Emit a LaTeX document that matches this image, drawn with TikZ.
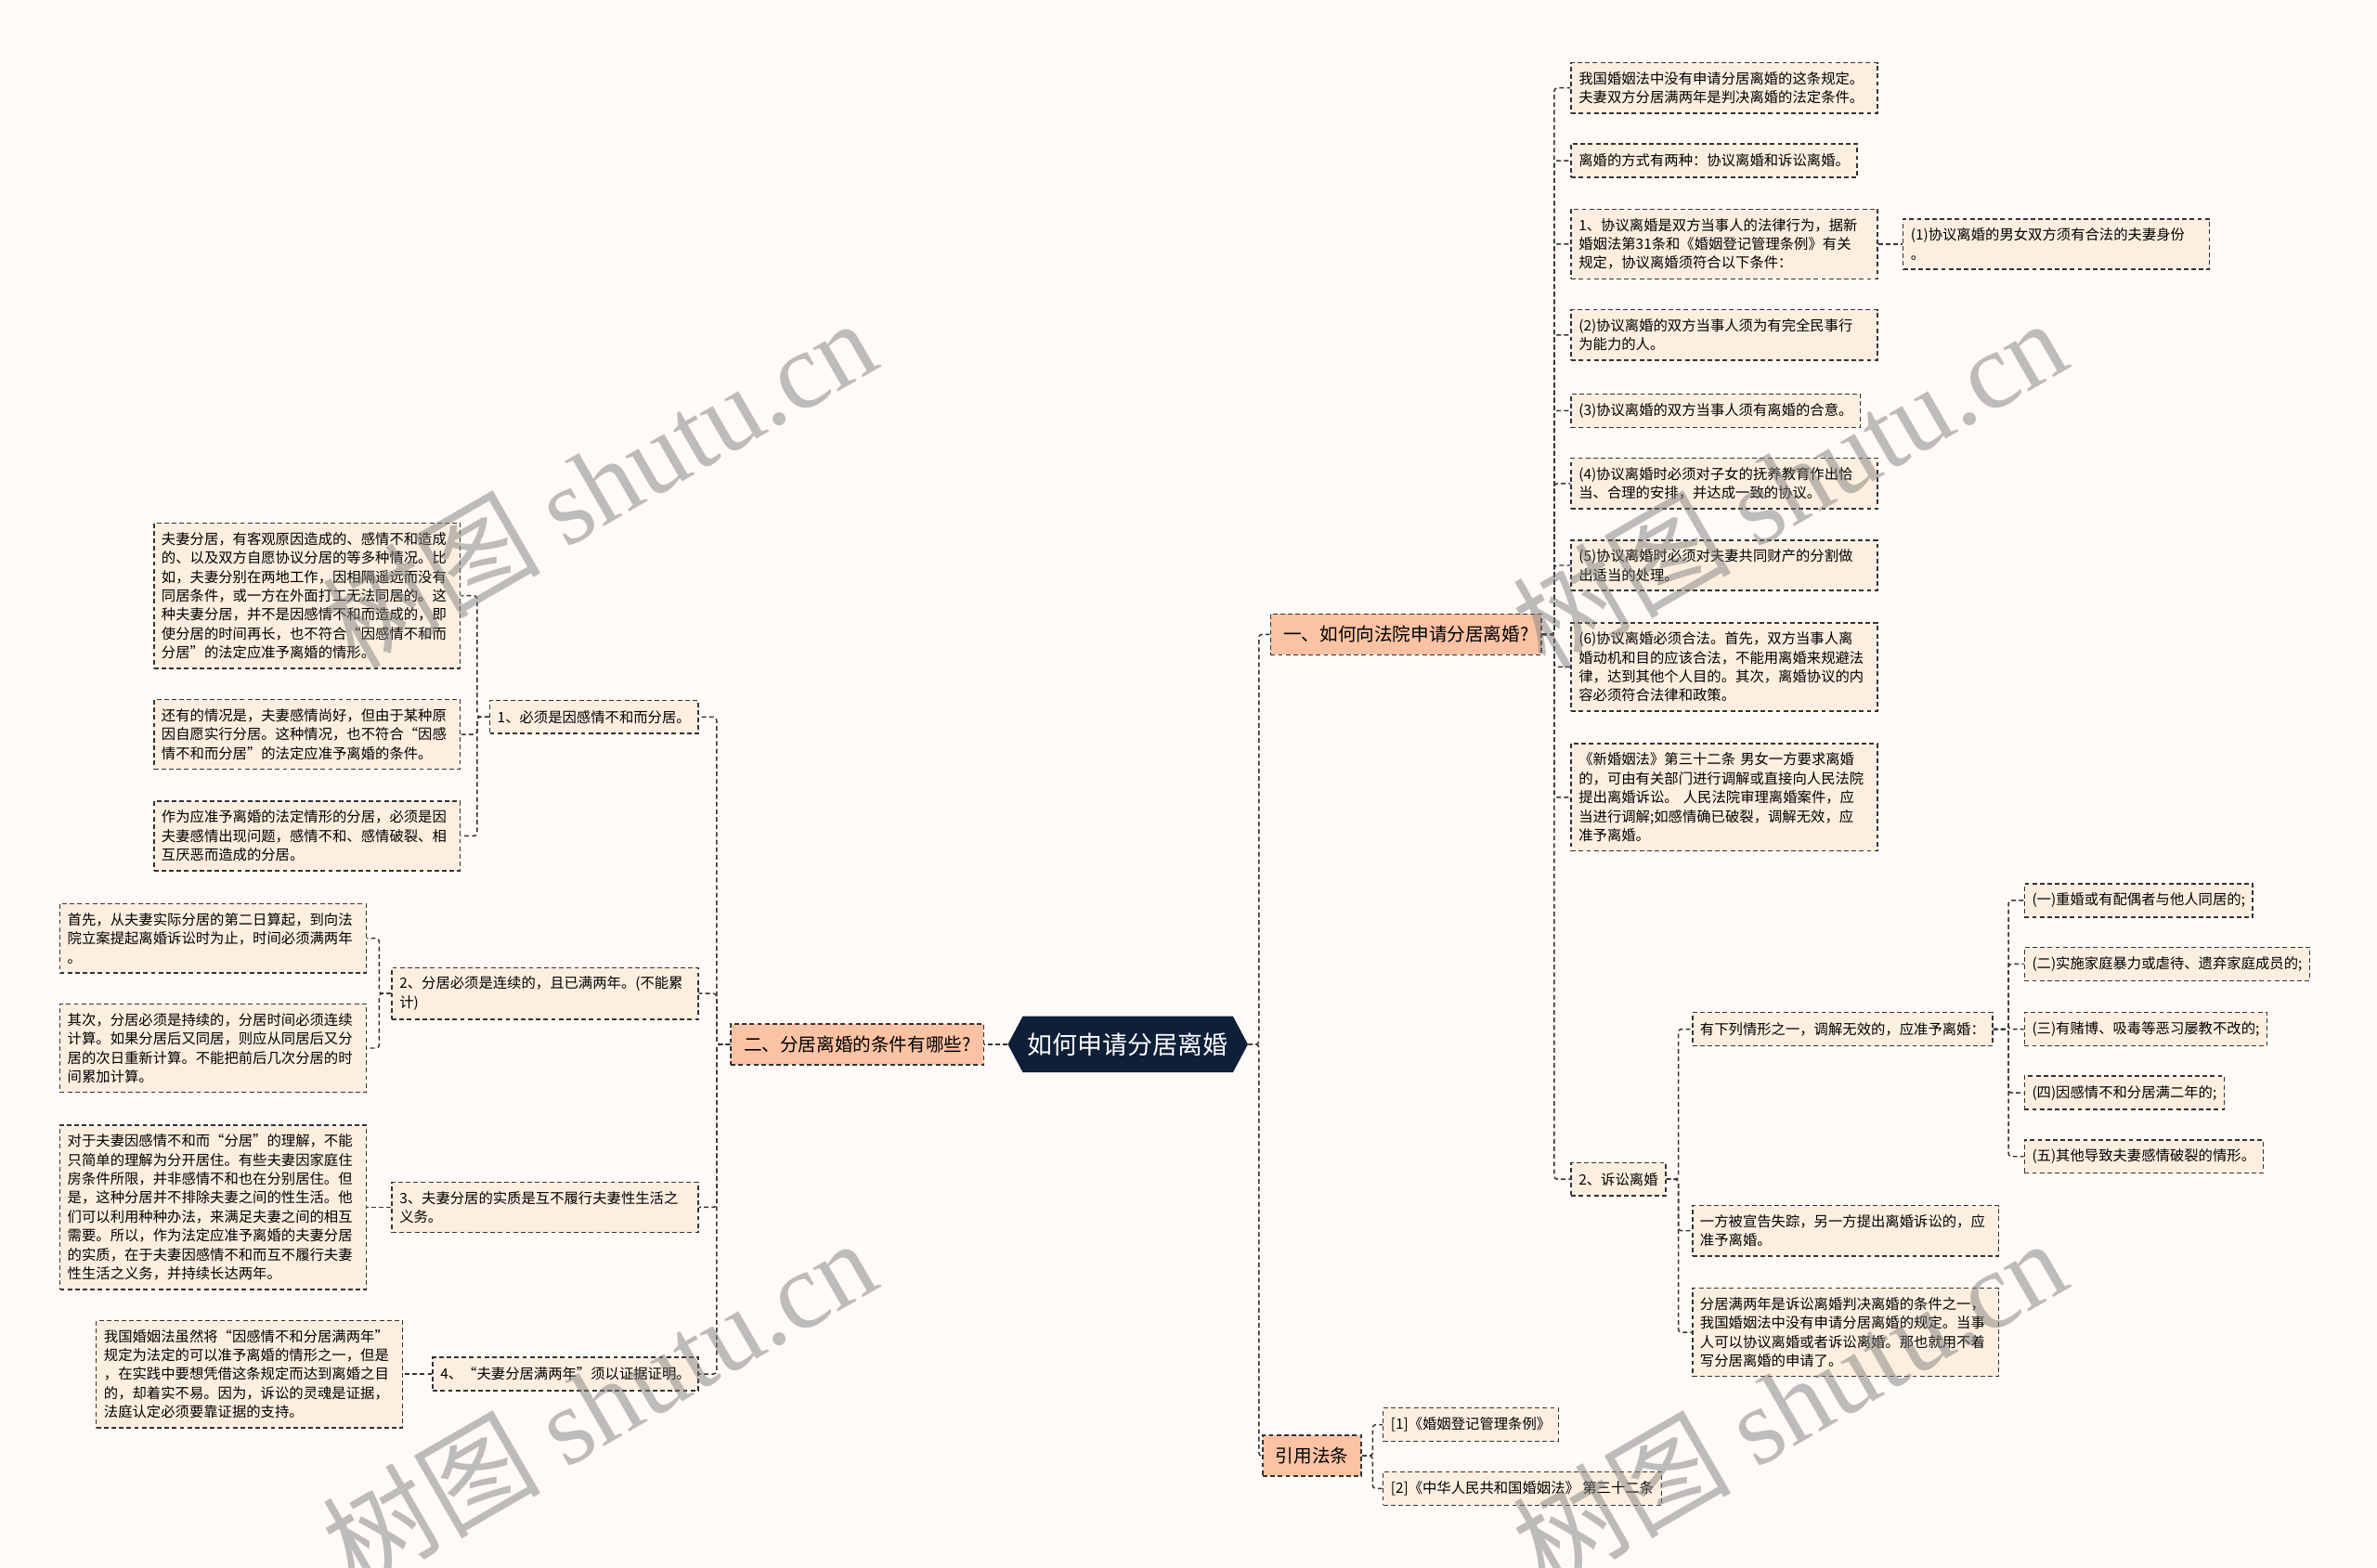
\documentclass[tikz,border=0pt]{standalone}
\usepackage{fontspec}
\setmainfont{Noto Sans CJK SC}
\newfontfamily\wmserif{Liberation Serif}
\usetikzlibrary{shapes.symbols}

\definecolor{bgpaper}{HTML}{FEFAF8}
\definecolor{leaffill}{HTML}{FDEFE0}
\definecolor{branchfill}{HTML}{FBC3A4}
\definecolor{rootfill}{HTML}{0F1F38}
\definecolor{linegray}{HTML}{333333}

\tikzset{
  leaf/.style={draw=linegray, dash pattern=on 3pt off 2pt, line width=0.9pt, fill=leaffill,
    inner xsep=5pt, inner ysep=6pt, minimum height=22pt, align=left,
    font=\fontsize{9.4}{12.5}\selectfont},
  leafw/.style={leaf, text width=192pt},
  branch/.style={draw=linegray, dash pattern=on 3pt off 2pt, line width=0.9pt, fill=branchfill,
    inner xsep=8.5pt, minimum height=27pt, font=\fontsize{12}{14}\selectfont},
  rootbox/.style={shape=signal, signal to=east and west, signal pointer angle=124,
    fill=rootfill, text=white, minimum width=152pt, minimum height=37pt,
    font=\fontsize{16.5}{18}\selectfont},
  link/.style={draw=linegray, dash pattern=on 3pt off 2pt, line width=0.9pt, rounded corners=2pt},
  wmark/.style={rotate=30, text=black!50, text opacity=0.5, font=\fontsize{72}{72}\selectfont}
}

\begin{document}
\begin{tikzpicture}[x=1pt,y=-1pt]
\useasboundingbox (0,0) rectangle (1568,1034);
\fill[bgpaper] (0,0) rectangle (1568,1034);

% centre and main branches
\node[rootbox] (root) at (744,689) {如何申请分居离婚};
\node[branch] (b1) at (927.5,418.5) {一、如何向法院申请分居离婚?};
\node[branch] (b2) at (565.5,689) {二、分居离婚的条件有哪些?};
\node[branch] (b3) at (865.5,960.5) {引用法条};

% branch one
\node[leafw, anchor=west] (c1) at (1036,58) {我国婚姻法中没有申请分居离婚的这条规定。\\夫妻双方分居满两年是判决离婚的法定条件。};
\node[leaf, anchor=west] (c2) at (1036,106) {离婚的方式有两种：协议离婚和诉讼离婚。};
\node[leafw, anchor=west] (c3) at (1036,161) {1、协议离婚是双方当事人的法律行为，据新\\婚姻法第31条和《婚姻登记管理条例》有关\\规定，协议离婚须符合以下条件：};
\node[leafw, anchor=west] (c3a) at (1255,161) {(1)协议离婚的男女双方须有合法的夫妻身份\\。};
\node[leafw, anchor=west] (c4) at (1036,221) {(2)协议离婚的双方当事人须为有完全民事行\\为能力的人。};
\node[leaf, anchor=west] (c5) at (1036,271) {(3)协议离婚的双方当事人须有离婚的合意。};
\node[leafw, anchor=west] (c6) at (1036,319) {(4)协议离婚时必须对子女的抚养教育作出恰\\当、合理的安排，并达成一致的协议。};
\node[leafw, anchor=west] (c7) at (1036,373) {(5)协议离婚时必须对夫妻共同财产的分割做\\出适当的处理。};
\node[leafw, anchor=west] (c8) at (1036,440) {(6)协议离婚必须合法。首先，双方当事人离\\婚动机和目的应该合法，不能用离婚来规避法\\律，达到其他个人目的。其次，离婚协议的内\\容必须符合法律和政策。};
\node[leafw, anchor=west] (c9) at (1036,526) {《新婚姻法》第三十二条 男女一方要求离婚\\的，可由有关部门进行调解或直接向人民法院\\提出离婚诉讼。 人民法院审理离婚案件，应\\当进行调解;如感情确已破裂，调解无效，应\\准予离婚。};
\node[leaf, anchor=west] (c10) at (1036,778) {2、诉讼离婚};

\node[leaf, anchor=west] (d1) at (1116,679) {有下列情形之一，调解无效的，应准予离婚：};
\node[leafw, anchor=west] (d2) at (1116,812) {一方被宣告失踪，另一方提出离婚诉讼的，应\\准予离婚。};
\node[leafw, anchor=west] (d3) at (1116,879) {分居满两年是诉讼离婚判决离婚的条件之一，\\我国婚姻法中没有申请分居离婚的规定。当事\\人可以协议离婚或者诉讼离婚。那也就用不着\\写分居离婚的申请了。};

\node[leaf, anchor=west] (e1) at (1335,594) {(一)重婚或有配偶者与他人同居的;};
\node[leaf, anchor=west] (e2) at (1335,636) {(二)实施家庭暴力或虐待、遗弃家庭成员的;};
\node[leaf, anchor=west] (e3) at (1335,679) {(三)有赌博、吸毒等恶习屡教不改的;};
\node[leaf, anchor=west] (e4) at (1335,721) {(四)因感情不和分居满二年的;};
\node[leaf, anchor=west] (e5) at (1335,763) {(五)其他导致夫妻感情破裂的情形。};

% cited laws
\node[leaf, anchor=west] (f1) at (912,940) {[1]《婚姻登记管理条例》};
\node[leaf, anchor=west] (f2) at (912,982) {[2]《中华人民共和国婚姻法》 第三十二条};

% branch two
\node[leaf, anchor=east] (g1) at (461,473) {1、必须是因感情不和而分居。};
\node[leafw, anchor=east] (g2) at (461,655.5) {2、分居必须是连续的，且已满两年。(不能累\\计)};
\node[leafw, anchor=east] (g3) at (461,796.5) {3、夫妻分居的实质是互不履行夫妻性生活之\\义务。};
\node[leaf, anchor=east] (g4) at (461,906.5) {4、“夫妻分居满两年”须以证据证明。};

\node[leafw, anchor=east] (h1) at (304,393) {夫妻分居，有客观原因造成的、感情不和造成\\的、以及双方自愿协议分居的等多种情况。比\\如，夫妻分别在两地工作，因相隔遥远而没有\\同居条件，或一方在外面打工无法同居的。这\\种夫妻分居，并不是因感情不和而造成的，即\\使分居的时间再长，也不符合“因感情不和而\\分居”的法定应准予离婚的情形。};
\node[leafw, anchor=east] (h2) at (304,484.5) {还有的情况是，夫妻感情尚好，但由于某种原\\因自愿实行分居。这种情况，也不符合“因感\\情不和而分居”的法定应准予离婚的条件。};
\node[leafw, anchor=east] (h3) at (304,551.5) {作为应准予离婚的法定情形的分居，必须是因\\夫妻感情出现问题，感情不和、感情破裂、相\\互厌恶而造成的分居。};
\node[leafw, anchor=east] (h4) at (242,619) {首先，从夫妻实际分居的第二日算起，到向法\\院立案提起离婚诉讼时为止，时间必须满两年\\。};
\node[leafw, anchor=east] (h5) at (242,691.5) {其次，分居必须是持续的，分居时间必须连续\\计算。如果分居后又同居，则应从同居后又分\\居的次日重新计算。不能把前后几次分居的时\\间累加计算。};
\node[leafw, anchor=east] (h6) at (242,796.5) {对于夫妻因感情不和而“分居”的理解，不能\\只简单的理解为分开居住。有些夫妻因家庭住\\房条件所限，并非感情不和也在分别居住。但\\是，这种分居并不排除夫妻之间的性生活。他\\们可以利用种种办法，来满足夫妻之间的相互\\需要。所以，作为法定应准予离婚的夫妻分居\\的实质，在于夫妻因感情不和而互不履行夫妻\\性生活之义务，并持续长达两年。};
\node[leafw, anchor=east] (h7) at (266,906.5) {我国婚姻法虽然将“因感情不和分居满两年”\\规定为法定的可以准予离婚的情形之一，但是\\，在实践中要想凭借这条规定而达到离婚之目\\的，却着实不易。因为，诉讼的灵魂是证据，\\法庭认定必须要靠证据的支持。};

% connectors
\draw[link] (root.east) -- ++(7,0) |- (b1.west);
\draw[link] (root.east) -- ++(7,0) |- (b3.west);
\draw[link] (root.west) -- (b2.east);
\foreach \c in {c1,c2,c3,c4,c5,c6,c7,c8,c9,c10}
  \draw[link] (b1.east) -- ++(8,0) |- (\c.west);
\draw[link] (c3.east) -- (c3a.west);
\foreach \c in {d1,d2,d3}
  \draw[link] (c10.east) -- ++(8,0) |- (\c.west);
\foreach \c in {e1,e2,e3,e4,e5}
  \draw[link] (d1.east) -- ++(10,0) |- (\c.west);
\foreach \c in {f1,f2}
  \draw[link] (b3.east) -- ++(7,0) |- (\c.west);
\foreach \c in {g1,g2,g3,g4}
  \draw[link] (b2.west) -- ++(-9,0) |- (\c.east);
\foreach \c in {h1,h2,h3}
  \draw[link] (g1.west) -- ++(-8,0) |- (\c.east);
\foreach \c in {h4,h5}
  \draw[link] (g2.west) -- ++(-8,0) |- (\c.east);
\draw[link] (g3.west) -- (h6.east);
\draw[link] (g4.west) -- (h7.east);

% watermarks
\foreach \wx/\wy in {395/318,1180/318,395/925,1180/925}
  \node[wmark] at (\wx,\wy) {树图 {\wmserif shutu.cn}};
\end{tikzpicture}
\end{document}
